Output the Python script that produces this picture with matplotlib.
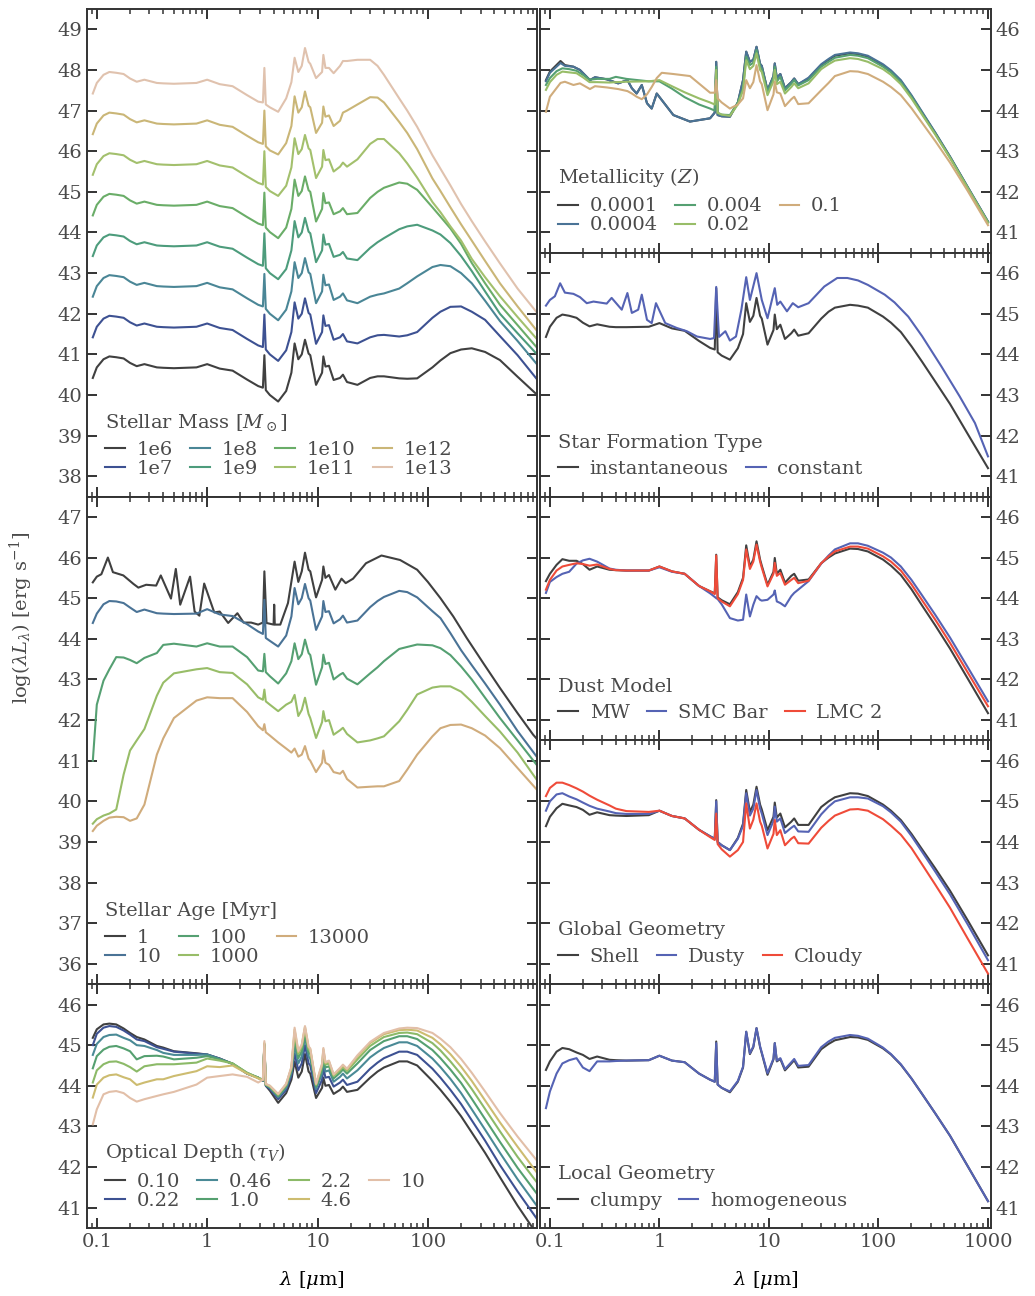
import numpy as np
import matplotlib
matplotlib.use("Agg")
import matplotlib.pyplot as plt
from matplotlib.ticker import FuncFormatter

# ── Wavelength grids [micron] ─────────────────────────────────────────────────

WL = [0.092, 0.1, 0.115, 0.13, 0.15, 0.175, 0.2, 0.23, 0.27, 0.35, 0.4, 0.5,
      0.8, 1.0, 1.3, 1.7, 2.3, 2.9, 3.2, 3.3, 3.4, 3.7, 4.4, 5.2, 5.8, 6.2,
      6.7, 7.2, 7.7, 8.3, 8.6, 9.7, 11.0, 11.3, 11.8, 12.7, 14.0, 16.0, 17.0,
      18.5, 23.0, 30.0, 35.0, 40.0, 55.0, 65.0, 80.0, 110.0, 130.0, 160.0,
      200.0, 250.0, 330.0, 450.0, 650.0, 1000.0]

WL_AGE1 = [0.092, 0.1, 0.11, 0.126, 0.14, 0.174, 0.215, 0.238, 0.28, 0.345,
           0.38, 0.47, 0.52, 0.57, 0.70, 0.77, 0.85, 0.94, 1.16, 1.3, 1.55,
           1.88, 2.14, 2.5, 2.9, 3.2, 3.3, 3.45, 4.0, 4.05, 4.1, 4.6, 5.4,
           6.2, 6.7, 7.2, 7.7, 8.3, 8.6, 9.7, 11.0, 11.3, 11.8, 12.7, 14.5,
           16.5, 18.0, 21.0, 27.5, 38.0, 56.0, 80.0, 100.0, 130.0, 170.0,
           225.0, 320.0, 450.0, 650.0, 900.0, 1000.0]

WL_LOWZ = [0.092, 0.1, 0.125, 0.137, 0.164, 0.188, 0.232, 0.258, 0.33, 0.42,
           0.51, 0.56, 0.62, 0.69, 0.77, 0.85, 0.945, 1.05, 1.34, 1.9, 2.9,
           3.2, 3.3, 3.4, 3.7, 4.4, 5.2, 5.8, 6.2, 6.7, 7.2, 7.7, 8.3, 8.6,
           9.7, 11.0, 11.3, 11.8, 12.7, 14.0, 16.0, 17.0, 18.5, 23.0, 30.0,
           35.0, 40.0, 55.0, 65.0, 80.0, 110.0, 130.0, 160.0, 200.0, 250.0,
           330.0, 450.0, 650.0, 1000.0]

WL_CONST = [0.092, 0.1, 0.111, 0.124, 0.137, 0.164, 0.188, 0.217, 0.25, 0.33,
            0.366, 0.453, 0.51, 0.56, 0.64, 0.69, 0.77, 0.85, 0.93, 1.13,
            1.44, 1.78, 2.2, 2.9, 3.15, 3.3, 3.5, 4.0, 4.4, 5.0, 5.6, 6.2,
            6.7, 7.7, 8.6, 9.7, 11.3, 11.9, 12.7, 14.6, 16.5, 18.5, 23.0,
            32.0, 42.0, 52.0, 65.0, 80.0, 114.0, 140.0, 187.0, 250.0, 376.0,
            550.0, 760.0, 1000.0]

# ── Stellar mass (log lambda L_lambda, on WL) ─────────────────────────────────

MASS_LABELS = ["1e6", "1e7", "1e8", "1e9", "1e10", "1e11", "1e12", "1e13"]
MASS_1E6 = [40.42, 40.68, 40.88, 40.95, 40.93, 40.90, 40.79, 40.71, 40.76, 40.68, 40.67, 40.66,
            40.68, 40.76, 40.65, 40.60, 40.38, 40.22,
            40.18, 40.98, 40.12, 40.00, 39.84, 40.10, 40.55, 41.27, 40.88, 41.00, 41.36,
            41.02, 40.98, 40.25, 40.55, 40.95, 40.70, 40.72, 40.37, 40.42, 40.50, 40.32,
            40.25, 40.42, 40.46, 40.46, 40.41, 40.40, 40.41, 40.68, 40.85, 41.03, 41.12,
            41.15, 41.06, 40.86, 40.45, 39.98]
MASS_1E7 = [41.42, 41.68, 41.88, 41.95, 41.93, 41.90, 41.79, 41.71, 41.76, 41.68, 41.67, 41.66,
            41.68, 41.76, 41.65, 41.60, 41.38, 41.22,
            41.18, 41.98, 41.12, 41.00, 40.84, 41.10, 41.55, 42.28, 41.88, 42.00, 42.38,
            42.02, 41.98, 41.26, 41.55, 41.96, 41.70, 41.72, 41.36, 41.42, 41.50, 41.32,
            41.27, 41.42, 41.47, 41.48, 41.44, 41.47, 41.55, 41.90, 42.05, 42.17, 42.18,
            42.05, 41.85, 41.45, 40.98, 40.35]
MASS_1E8 = [42.42, 42.68, 42.88, 42.95, 42.93, 42.90, 42.79, 42.71, 42.76, 42.68, 42.67, 42.66,
            42.68, 42.76, 42.65, 42.60, 42.38, 42.22,
            42.18, 42.98, 42.12, 42.00, 41.84, 42.10, 42.55, 43.27, 42.88, 43.00, 43.37,
            43.02, 42.98, 42.26, 42.55, 42.96, 42.70, 42.72, 42.34, 42.42, 42.50, 42.33,
            42.26, 42.42, 42.47, 42.50, 42.62, 42.75, 42.92, 43.15, 43.20, 43.17, 43.00,
            42.75, 42.32, 41.82, 41.33, 40.72]
MASS_1E9 = [43.42, 43.68, 43.88, 43.95, 43.93, 43.90, 43.79, 43.71, 43.76, 43.68, 43.67, 43.66,
            43.68, 43.76, 43.65, 43.60, 43.38, 43.22,
            43.18, 43.98, 43.12, 43.00, 42.85, 43.10, 43.56, 44.28, 43.88, 44.00, 44.36,
            44.02, 43.98, 43.27, 43.56, 43.95, 43.70, 43.72, 43.40, 43.45, 43.52, 43.36,
            43.32, 43.62, 43.76, 43.86, 44.08, 44.15, 44.19, 44.05, 43.95, 43.74, 43.42,
            43.05, 42.55, 42.00, 41.52, 40.97]
MASS_1E10 = [44.42, 44.68, 44.88, 44.95, 44.93, 44.90, 44.79, 44.71, 44.76, 44.68, 44.67, 44.66,
             44.68, 44.76, 44.65, 44.60, 44.38, 44.22,
             44.18, 44.98, 44.12, 44.01, 43.86, 44.12, 44.58, 45.30, 44.90, 45.02, 45.38,
             45.04, 45.00, 44.27, 44.58, 44.97, 44.72, 44.74, 44.45, 44.52, 44.60, 44.45,
             44.48, 44.85, 45.00, 45.10, 45.23, 45.20, 45.05, 44.62, 44.39, 44.10, 43.72,
             43.25, 42.75, 42.22, 41.72, 41.13]
MASS_1E11 = [45.42, 45.68, 45.88, 45.95, 45.93, 45.90, 45.79, 45.71, 45.76, 45.68, 45.67, 45.66,
             45.68, 45.76, 45.65, 45.60, 45.38, 45.22,
             45.18, 46.00, 45.12, 45.02, 44.90, 45.15, 45.60, 46.32, 45.93, 46.05, 46.40,
             46.07, 46.03, 45.34, 45.62, 46.03, 45.78, 45.80, 45.50, 45.62, 45.72, 45.62,
             45.80, 46.18, 46.30, 46.30, 45.95, 45.70, 45.35, 44.75, 44.50, 44.15, 43.80,
             43.35, 42.90, 42.43, 41.92, 41.34]
MASS_1E12 = [46.42, 46.68, 46.88, 46.95, 46.93, 46.90, 46.79, 46.71, 46.76, 46.68, 46.67, 46.66,
             46.68, 46.76, 46.65, 46.60, 46.38, 46.22,
             46.18, 47.00, 46.12, 46.02, 45.92, 46.20, 46.62, 47.35, 46.95, 47.08, 47.47,
             47.12, 47.08, 46.45, 46.70, 47.10, 46.85, 46.88, 46.62, 46.75, 46.95, 47.00,
             47.15, 47.33, 47.32, 47.20, 46.72, 46.45, 46.05, 45.33, 45.02, 44.62, 44.20,
             43.80, 43.30, 42.75, 42.18, 41.54]
MASS_1E13 = [47.42, 47.68, 47.88, 47.95, 47.93, 47.90, 47.79, 47.71, 47.76, 47.68, 47.67, 47.66,
             47.68, 47.76, 47.65, 47.60, 47.38, 47.22,
             47.20, 48.05, 47.15, 47.08, 46.97, 47.30, 47.70, 48.30, 47.95, 48.10, 48.54,
             48.20, 48.15, 47.80, 47.95, 48.37, 48.05, 48.05, 47.92, 48.10, 48.22, 48.22,
             48.25, 48.25, 48.10, 47.88, 47.30, 47.00, 46.60, 45.90, 45.57, 45.16, 44.70,
             44.28, 43.78, 43.24, 42.62, 41.99]

# ── Stellar age ───────────────────────────────────────────────────────────────

AGE_LABELS = ["1", "10", "100", "1000", "13000"]
AGE_1 = [45.39, 45.53, 45.59, 46.00, 45.64, 45.56, 45.35, 45.26, 45.33, 45.31,
         45.56, 44.99, 45.72, 44.84, 45.53, 44.67, 44.57, 45.36, 44.65, 44.67,
         44.39, 44.63, 44.40, 44.40, 44.35, 44.40, 45.66, 44.39, 44.35, 44.84,
         44.35, 44.35, 44.88, 45.90, 45.40, 45.66, 46.12, 45.70, 45.66, 45.02,
         45.45, 45.78, 45.50, 45.57, 45.21, 45.48, 45.37, 45.48, 45.86, 46.05,
         45.94, 45.70, 45.40, 45.00, 44.55, 44.02, 43.39, 42.79, 42.17, 41.64,
         41.50]
AGE_10 = [44.39, 44.62, 44.85, 44.93, 44.92, 44.88, 44.77, 44.66, 44.72, 44.63, 44.62, 44.61,
          44.62, 44.73, 44.60, 44.56, 44.36, 44.18,
          44.12, 44.96, 44.02, 43.95, 43.81, 44.08, 44.55, 45.25, 44.85, 45.00, 45.35,
          45.00, 44.94, 44.22, 44.55, 44.93, 44.66, 44.68, 44.38, 44.48, 44.57, 44.40,
          44.45, 44.78, 44.93, 45.03, 45.18, 45.15, 45.02, 44.68, 44.51, 44.14, 43.72,
          43.35, 42.90, 42.38, 41.73, 41.05]
AGE_100 = [41.00, 42.38, 42.97, 43.25, 43.55, 43.54, 43.48, 43.40, 43.53, 43.65, 43.85, 43.88,
           43.81, 43.89, 43.81, 43.81, 43.55, 43.22,
           43.20, 43.63, 43.18, 43.08, 42.90, 43.15, 43.45, 43.89, 43.50, 43.62, 43.98,
           43.65, 43.60, 42.87, 43.30, 43.61, 43.38, 43.41, 43.00, 43.12, 43.16, 43.02,
           42.88, 43.15, 43.30, 43.45, 43.75, 43.80, 43.86, 43.84, 43.77, 43.60, 43.32,
           43.00, 42.55, 42.05, 41.50, 40.85]
AGE_1000 = [39.45, 39.56, 39.65, 39.70, 39.80, 40.66, 41.25, 41.50, 41.78, 42.60, 42.92, 43.15,
            43.25, 43.28, 43.18, 43.16, 42.88, 42.56,
            42.50, 42.75, 42.46, 42.38, 42.22, 42.38, 42.45, 42.62, 42.10, 42.25, 42.55,
            42.15, 42.05, 41.56, 41.95, 42.22, 41.97, 42.00, 41.64, 41.75, 41.81, 41.66,
            41.45, 41.50, 41.55, 41.60, 41.97, 42.25, 42.63, 42.80, 42.83, 42.83, 42.70,
            42.45, 42.10, 41.72, 41.20, 40.48]
AGE_13000 = [39.27, 39.40, 39.52, 39.60, 39.62, 39.61, 39.52, 39.58, 39.92, 41.15, 41.55, 42.05,
             42.48, 42.56, 42.54, 42.54, 42.20, 41.85,
             41.75, 41.90, 41.70, 41.62, 41.45, 41.30, 41.20, 41.30, 41.10, 41.15, 41.36,
             41.05, 41.00, 40.72, 40.95, 41.25, 40.95, 40.90, 40.72, 40.68, 40.75, 40.55,
             40.34, 40.36, 40.37, 40.37, 40.50, 40.78, 41.15, 41.60, 41.80, 41.88, 41.89,
             41.80, 41.62, 41.31, 40.82, 40.25]

# ── Optical depth ─────────────────────────────────────────────────────────────

TAU_LABELS = ["0.10", "0.22", "0.46", "1.0", "2.2", "4.6", "10"]
TAU_010 = [45.18, 45.39, 45.51, 45.53, 45.51, 45.41, 45.30, 45.20, 45.14, 44.98, 44.94, 44.85,
           44.80, 44.77, 44.67, 44.54, 44.30, 44.20,
           44.12, 45.00, 44.00, 43.88, 43.58, 43.82, 44.15, 44.60, 44.20, 44.35, 44.78,
           44.35, 44.30, 43.70, 43.95, 44.20, 44.00, 44.02, 43.80, 43.90, 43.98, 43.85,
           43.90, 44.20, 44.35, 44.45, 44.60, 44.60, 44.50, 44.12, 43.90, 43.60, 43.25,
           42.85, 42.35, 41.75, 41.05, 40.30]
TAU_022 = [45.00, 45.28, 45.43, 45.47, 45.45, 45.36, 45.26, 45.14, 45.10, 44.95, 44.91, 44.84,
           44.79, 44.77, 44.67, 44.54, 44.30, 44.20,
           44.12, 45.00, 44.00, 43.92, 43.67, 43.90, 44.25, 44.80, 44.38, 44.55, 45.00,
           44.55, 44.50, 43.82, 44.15, 44.45, 44.20, 44.22, 43.98, 44.08, 44.15, 44.02,
           44.10, 44.42, 44.57, 44.68, 44.84, 44.84, 44.76, 44.42, 44.20, 43.90, 43.55,
           43.15, 42.65, 42.05, 41.40, 40.68]
TAU_046 = [44.76, 45.03, 45.20, 45.25, 45.26, 45.18, 45.12, 45.00, 44.98, 44.88, 44.81, 44.76,
           44.76, 44.77, 44.66, 44.54, 44.30, 44.20,
           44.13, 45.00, 44.02, 43.95, 43.72, 43.95, 44.32, 45.00, 44.55, 44.72, 45.20,
           44.72, 44.66, 43.92, 44.30, 44.62, 44.35, 44.38, 44.10, 44.22, 44.30, 44.18,
           44.38, 44.70, 44.83, 44.93, 45.07, 45.07, 44.98, 44.67, 44.46, 44.17, 43.82,
           43.42, 42.92, 42.35, 41.70, 41.00]
TAU_1 = [44.43, 44.73, 44.89, 44.96, 44.98, 44.92, 44.85, 44.65, 44.73, 44.74, 44.72, 44.65,
         44.69, 44.73, 44.65, 44.55, 44.32, 44.20,
         44.13, 45.02, 44.02, 43.97, 43.75, 44.00, 44.38, 45.15, 44.68, 44.85, 45.30,
         44.83, 44.78, 43.98, 44.40, 44.75, 44.45, 44.48, 44.18, 44.32, 44.40, 44.30,
         44.55, 44.88, 45.00, 45.10, 45.22, 45.22, 45.15, 44.88, 44.68, 44.40, 44.07,
         43.68, 43.18, 42.62, 41.98, 41.30]
TAU_22 = [44.08, 44.38, 44.53, 44.59, 44.60, 44.54, 44.46, 44.35, 44.48, 44.53, 44.53, 44.53,
          44.57, 44.67, 44.62, 44.55, 44.32, 44.20,
          44.14, 45.04, 44.03, 43.98, 43.78, 44.02, 44.42, 45.30, 44.78, 44.95, 45.40,
          44.90, 44.86, 44.02, 44.48, 44.85, 44.52, 44.55, 44.24, 44.38, 44.46, 44.36,
          44.65, 44.98, 45.10, 45.20, 45.30, 45.31, 45.27, 45.05, 44.87, 44.60, 44.28,
          43.92, 43.43, 42.88, 42.25, 41.58]
TAU_46 = [43.71, 44.03, 44.20, 44.26, 44.28, 44.21, 44.16, 44.02, 44.08, 44.16, 44.16, 44.24,
          44.36, 44.48, 44.46, 44.50, 44.30, 44.18,
          44.14, 45.05, 44.04, 44.00, 43.79, 44.04, 44.45, 45.38, 44.83, 45.00, 45.45,
          44.95, 44.90, 44.04, 44.52, 44.90, 44.56, 44.60, 44.27, 44.42, 44.50, 44.40,
          44.72, 45.05, 45.17, 45.27, 45.37, 45.38, 45.36, 45.18, 45.02, 44.78, 44.47,
          44.12, 43.64, 43.10, 42.50, 41.82]
TAU_10 = [43.05, 43.42, 43.79, 43.85, 43.87, 43.82, 43.70, 43.61, 43.67, 43.75, 43.79, 43.85,
          44.03, 44.20, 44.24, 44.28, 44.22, 44.08,
          44.15, 45.10, 44.05, 44.00, 43.80, 44.05, 44.47, 45.43, 44.86, 45.02, 45.47,
          44.97, 44.92, 44.05, 44.55, 44.93, 44.58, 44.62, 44.28, 44.44, 44.52, 44.42,
          44.75, 45.08, 45.20, 45.30, 45.41, 45.43, 45.42, 45.30, 45.16, 44.95, 44.66,
          44.32, 43.86, 43.33, 42.75, 42.12]

# ── Metallicity ───────────────────────────────────────────────────────────────

Z_LABELS = ["0.0001", "0.0004", "0.004", "0.02", "0.1"]
Z_0001 = [44.75, 44.96, 45.22, 45.12, 45.08, 45.00, 44.75, 44.82, 44.77, 44.67,
          44.75, 44.55, 44.42, 44.63, 44.18, 44.05, 44.42, 44.26, 43.89, 43.73,
          43.81, 43.95, 45.20, 43.89, 43.86, 43.85, 44.20, 44.75, 45.45, 45.20,
          45.25, 45.57, 45.15, 45.10, 44.50, 44.85, 45.16, 44.80, 44.90, 44.55,
          44.70, 44.79, 44.65,
          44.79, 45.12, 45.25, 45.35, 45.41, 45.39, 45.33, 45.12, 44.97, 44.73,
          44.36, 43.95, 43.45, 42.86, 42.12, 41.26]
Z_0004 = [44.72, 44.93, 45.17, 45.10, 45.08, 45.00, 44.75, 44.82, 44.77, 44.67,
          44.75, 44.55, 44.42, 44.63, 44.18, 44.05, 44.42, 44.26, 43.89, 43.73,
          43.81, 43.95, 45.20, 43.89, 43.86, 43.85, 44.20, 44.75, 45.45, 45.20,
          45.25, 45.57, 45.15, 45.10, 44.50, 44.85, 45.16, 44.80, 44.90, 44.55,
          44.70, 44.79, 44.65,
          44.81, 45.14, 45.27, 45.37, 45.43, 45.41, 45.35, 45.14, 44.99, 44.75,
          44.38, 43.97, 43.46, 42.87, 42.13, 41.27]
Z_004 = [44.63, 44.80, 44.97, 45.04, 45.02, 44.98, 44.88, 44.76, 44.78, 44.78, 44.83, 44.78,
         44.72, 44.72, 44.54, 44.33, 44.15, 44.05,
         44.00, 45.08, 43.94, 43.90, 43.89, 44.20, 44.55, 45.33, 45.12, 45.18, 45.49,
         45.08, 45.02, 44.46, 44.80, 45.08, 44.72, 44.83, 44.50, 44.66, 44.75, 44.62,
         44.75, 45.08, 45.20, 45.30, 45.37, 45.35, 45.29, 45.08, 44.94, 44.70, 44.34,
         43.93, 43.43, 42.85, 42.11, 41.25]
Z_02 = [44.51, 44.70, 44.88, 44.96, 44.94, 44.92, 44.82, 44.70, 44.70, 44.69, 44.70, 44.71,
        44.72, 44.75, 44.60, 44.45, 44.30, 44.20,
        44.15, 45.00, 43.95, 43.90, 43.87, 44.15, 44.50, 45.24, 45.02, 45.10, 45.41,
        45.00, 44.95, 44.38, 44.72, 45.00, 44.65, 44.71, 44.42, 44.58, 44.67, 44.55,
        44.67, 45.02, 45.14, 45.23, 45.29, 45.27, 45.20, 45.02, 44.88, 44.65, 44.30,
        43.90, 43.41, 42.83, 42.10, 41.24]
Z_1 = [43.97, 44.34, 44.68, 44.71, 44.63, 44.67, 44.53, 44.60, 44.57, 44.53,
       44.48, 44.42, 44.34, 44.28, 44.40, 44.58, 44.80, 44.93, 44.90, 44.85,
       44.44, 44.44, 44.75, 44.30, 44.20, 44.05, 44.15, 44.30, 44.75, 44.55,
       44.70, 45.12, 44.72, 44.65, 44.01, 44.40, 44.71, 44.45, 44.42, 44.11,
       44.28, 44.34, 44.16,
       44.18, 44.50, 44.68, 44.85, 44.97, 44.96, 44.90, 44.71, 44.58, 44.38,
       44.06, 43.70, 43.25, 42.72, 42.03, 41.18]

# ── Star formation type ───────────────────────────────────────────────────────

SF_LABELS = ["instantaneous", "constant"]
SF_INST = [44.43, 44.68, 44.90, 44.98, 44.95, 44.90, 44.78, 44.69, 44.74, 44.68, 44.67, 44.67,
           44.68, 44.77, 44.64, 44.58, 44.33, 44.16,
           44.12, 45.63, 44.05, 43.97, 43.87, 44.15, 44.50, 45.26, 44.80, 44.95, 45.39,
           44.95, 44.88, 44.24, 44.60, 44.98, 44.62, 44.73, 44.38, 44.52, 44.61, 44.46,
           44.52, 44.88, 45.05, 45.15, 45.22, 45.20, 45.15, 44.93, 44.78, 44.55, 44.20,
           43.82, 43.33, 42.78, 42.05, 41.20]
SF_CONST = [45.20, 45.34, 45.43, 45.75, 45.52, 45.49, 45.41, 45.26, 45.30, 45.25,
            45.39, 45.10, 45.51, 45.02, 45.10, 45.47, 44.85, 44.77, 45.26, 44.77,
            44.65, 44.57, 44.44, 44.38, 44.40, 45.66, 44.43, 44.57, 44.34, 44.44,
            45.10, 45.90, 45.34, 46.00, 45.34, 44.89, 45.63, 45.22, 45.30, 45.06,
            45.26, 45.16, 45.26, 45.67, 45.88, 45.88, 45.82, 45.71, 45.47, 45.28,
            44.93, 44.45, 43.70, 42.97, 42.31, 41.49]

# ── Dust model ────────────────────────────────────────────────────────────────

DUST_LABELS = ["MW", "SMC Bar", "LMC 2"]
DUST_MW = [44.42, 44.60, 44.82, 44.96, 44.92, 44.92, 44.84, 44.70, 44.78, 44.70, 44.69, 44.68,
           44.68, 44.78, 44.66, 44.60, 44.30, 44.17,
           44.12, 45.07, 44.02, 43.95, 43.85, 44.15, 44.50, 45.30, 44.78, 44.95, 45.40,
           44.95, 44.80, 44.33, 44.65, 44.99, 44.60, 44.70, 44.38, 44.55, 44.60, 44.43,
           44.46, 44.86, 45.00, 45.10, 45.22, 45.21, 45.15, 44.95, 44.80, 44.57, 44.22,
           43.82, 43.33, 42.76, 42.03, 41.17]
DUST_SMC = [44.13, 44.40, 44.52, 44.60, 44.65, 44.85, 44.93, 44.97, 44.90, 44.73, 44.70, 44.68,
            44.68, 44.76, 44.65, 44.60, 44.30, 44.12,
            44.03, 44.00, 43.98, 43.85, 43.51, 43.45, 43.47, 44.09, 43.55, 43.84, 44.05,
            43.96, 43.94, 43.96, 44.09, 44.19, 43.92, 43.88, 43.80, 44.05, 44.13, 44.21,
            44.42, 44.85, 45.05, 45.20, 45.35, 45.35, 45.29, 45.12, 45.00, 44.78, 44.45,
            44.07, 43.59, 43.03, 42.31, 41.46]
DUST_LMC = [44.21, 44.45, 44.68, 44.78, 44.82, 44.86, 44.84, 44.80, 44.83, 44.72, 44.69, 44.68,
            44.68, 44.78, 44.66, 44.60, 44.30, 44.17,
            44.10, 45.05, 44.00, 43.92, 43.80, 44.10, 44.45, 45.20, 44.72, 44.90, 45.32,
            44.90, 44.75, 44.29, 44.60, 44.87, 44.55, 44.62, 44.33, 44.45, 44.50, 44.37,
            44.43, 44.86, 45.03, 45.15, 45.27, 45.27, 45.22, 45.03, 44.90, 44.68, 44.34,
            43.95, 43.47, 42.90, 42.18, 41.34]

# ── Global geometry ───────────────────────────────────────────────────────────

GEO_LABELS = ["Shell", "Dusty", "Cloudy"]
GEO_SHELL = [44.39, 44.62, 44.83, 44.94, 44.90, 44.86, 44.79, 44.67, 44.73, 44.66, 44.65, 44.64,
             44.66, 44.77, 44.64, 44.58, 44.30, 44.14,
             44.08, 45.03, 44.00, 43.92, 43.80, 44.10, 44.45, 45.28, 44.74, 44.92, 45.36,
             44.92, 44.80, 44.29, 44.62, 44.97, 44.60, 44.70, 44.36, 44.50, 44.58, 44.42,
             44.42, 44.86, 45.00, 45.10, 45.20, 45.19, 45.13, 44.92, 44.77, 44.54, 44.20,
             43.82, 43.35, 42.80, 42.08, 41.21]
GEO_DUSTY = [44.77, 45.00, 45.17, 45.20, 45.12, 45.05, 44.97, 44.89, 44.82, 44.75, 44.71, 44.69,
             44.69, 44.77, 44.64, 44.58, 44.30, 44.14,
             44.08, 45.00, 44.00, 43.92, 43.80, 44.08, 44.40, 45.20, 44.65, 44.82, 45.28,
             44.82, 44.70, 44.17, 44.52, 44.87, 44.50, 44.58, 44.22, 44.35, 44.40, 44.26,
             44.25, 44.68, 44.87, 45.00, 45.10, 45.10, 45.07, 44.88, 44.73, 44.50, 44.15,
             43.76, 43.27, 42.71, 41.98, 41.09]
GEO_CLOUDY = [45.13, 45.33, 45.46, 45.46, 45.40, 45.32, 45.24, 45.14, 45.04, 44.90, 44.82, 44.76,
              44.74, 44.77, 44.64, 44.58, 44.30, 44.12,
              44.05, 44.70, 43.95, 43.82, 43.64, 43.80, 44.00, 44.95, 44.33, 44.55, 44.95,
              44.50, 44.40, 43.84, 44.20, 44.54, 44.17, 44.29, 43.92, 44.08, 44.13, 43.97,
              43.96, 44.35, 44.52, 44.65, 44.80, 44.81, 44.77, 44.56, 44.40, 44.18, 43.85,
              43.45, 42.95, 42.38, 41.63, 40.76]

# ── Local geometry ────────────────────────────────────────────────────────────

LOC_LABELS = ["clumpy", "homogeneous"]
LOC_CLUMPY = [44.39, 44.60, 44.84, 44.93, 44.90, 44.82, 44.76, 44.66, 44.72, 44.64, 44.63, 44.62,
              44.63, 44.74, 44.62, 44.58, 44.30, 44.15,
              44.10, 45.09, 44.03, 43.95, 43.84, 44.10, 44.45, 45.33, 44.78, 44.95, 45.42,
              44.95, 44.80, 44.27, 44.65, 45.05, 44.60, 44.66, 44.38, 44.55, 44.63, 44.45,
              44.47, 44.90, 45.03, 45.12, 45.20, 45.19, 45.13, 44.92, 44.77, 44.52, 44.18,
              43.80, 43.32, 42.77, 42.03, 41.16]
LOC_HOMOG = [43.45, 43.86, 44.30, 44.55, 44.63, 44.68, 44.45, 44.36, 44.60, 44.60, 44.61, 44.62,
             44.63, 44.74, 44.62, 44.58, 44.30, 44.15,
             44.10, 45.05, 44.03, 43.95, 43.86, 44.12, 44.47, 45.33, 44.80, 44.97, 45.42,
             44.97, 44.82, 44.31, 44.67, 45.05, 44.62, 44.68, 44.41, 44.58, 44.66, 44.49,
             44.51, 44.95, 45.09, 45.18, 45.25, 45.23, 45.16, 44.94, 44.78, 44.53, 44.18,
             43.80, 43.32, 42.77, 42.03, 41.16]

# ── Colours ───────────────────────────────────────────────────────────────────

SEQ8 = ["#404040", "#3d5192", "#4a8696", "#4d9c7c", "#6aad68", "#a3c06d", "#cab677", "#e0c2ae"]
SEQ7 = ["#404040", "#3d5192", "#4a8a96", "#55a070", "#8cba68", "#cdbc70", "#e2bfa8"]
SEQ5 = ["#404040", "#4a7396", "#55a072", "#98bd68", "#d0ac7c"]
DARK, BLUE, RED = "#404040", "#5563b4", "#ef4b39"

# ── Style ─────────────────────────────────────────────────────────────────────

plt.rcParams.update({
    "font.family": "DejaVu Serif",
    "mathtext.fontset": "dejavuserif",
    "font.size": 14,
    "text.color": "#4a4a4a",
    "axes.edgecolor": "#333333",
    "axes.linewidth": 1.4,
    "xtick.color": "#333333",
    "ytick.color": "#333333",
    "xtick.labelcolor": "#4a4a4a",
    "ytick.labelcolor": "#4a4a4a",
    "xtick.direction": "in",
    "ytick.direction": "in",
    "xtick.major.size": 7,
    "ytick.major.size": 7,
    "xtick.minor.size": 3.5,
    "xtick.major.width": 1.4,
    "ytick.major.width": 1.4,
    "xtick.minor.width": 1.1,
    "xtick.labelsize": 14,
    "ytick.labelsize": 14,
    "legend.fontsize": 14,
    "legend.title_fontsize": 14,
})

W, H = 1035, 1296
fig = plt.figure(figsize=(W / 100, H / 100), dpi=100)

ROWS = [9, 252.8, 496.6, 740.4, 984.2, 1228]
LEFT_X, RIGHT_X = (87, 537), (540, 991)


def add_ax(xs, y0, y1):
    return fig.add_axes([xs[0] / W, 1 - y1 / H, (xs[1] - xs[0]) / W, (y1 - y0) / H])


def draw(ax, series, title, ncol, ylim, yticks, right, bottom):
    for wl, vals, lab, col in series:
        ax.plot(wl, vals, color=col, lw=1.5, label=lab)
    ax.set_xscale("log")
    ax.set_xticks([0.1, 1, 10, 100, 1000])
    ax.xaxis.set_major_formatter(FuncFormatter(lambda v, p: "%g" % v))
    if right:
        ax.set_xlim(0.0812, 1065)
    else:
        ax.set_xlim(0.0815, 975)
    ax.set_ylim(*ylim)
    ax.set_yticks(yticks)
    ax.tick_params(which="both", top=True, bottom=True, left=True, right=True)
    ax.tick_params(axis="y", labelleft=not right, labelright=right)
    ax.tick_params(axis="x", labelbottom=bottom)
    leg = ax.legend(title=title, ncol=ncol, loc="lower left", frameon=False,
                    handlelength=1.0, handletextpad=0.6, columnspacing=0.9,
                    labelspacing=0.05, alignment="left", borderaxespad=0.55,
                    borderpad=0.4)
    leg._legend_box.sep = 6   # extra gap between title and entries
    if bottom:
        ax.set_xlabel(r"$\lambda$ [$\mu$m]", labelpad=13)


# left column
ax = add_ax(LEFT_X, ROWS[0], ROWS[2])
draw(ax, zip([WL] * 8,
             [MASS_1E6, MASS_1E7, MASS_1E8, MASS_1E9, MASS_1E10, MASS_1E11, MASS_1E12, MASS_1E13],
             MASS_LABELS, SEQ8),
     r"Stellar Mass [$M_\odot$]", 4, (37.5, 49.5), range(38, 50), False, False)

ax = add_ax(LEFT_X, ROWS[2], ROWS[4])
draw(ax, zip([WL_AGE1, WL, WL, WL, WL],
             [AGE_1, AGE_10, AGE_100, AGE_1000, AGE_13000], AGE_LABELS, SEQ5),
     "Stellar Age [Myr]", 3, (35.5, 47.5), range(36, 48), False, False)

ax = add_ax(LEFT_X, ROWS[4], ROWS[5])
draw(ax, zip([WL] * 7, [TAU_010, TAU_022, TAU_046, TAU_1, TAU_22, TAU_46, TAU_10],
             TAU_LABELS, SEQ7),
     r"Optical Depth ($\tau_V$)", 4, (40.5, 46.5), range(41, 47), False, True)

# right column
ax = add_ax(RIGHT_X, ROWS[0], ROWS[1])
draw(ax, zip([WL_LOWZ, WL_LOWZ, WL, WL, WL_LOWZ], [Z_0001, Z_0004, Z_004, Z_02, Z_1],
             Z_LABELS, SEQ5),
     r"Metallicity ($Z$)", 3, (40.5, 46.5), range(41, 47), True, False)

ax = add_ax(RIGHT_X, ROWS[1], ROWS[2])
draw(ax, zip([WL, WL_CONST], [SF_INST, SF_CONST], SF_LABELS, [DARK, BLUE]),
     "Star Formation Type", 2, (40.5, 46.5), range(41, 47), True, False)

ax = add_ax(RIGHT_X, ROWS[2], ROWS[3])
draw(ax, zip([WL] * 3, [DUST_MW, DUST_SMC, DUST_LMC], DUST_LABELS, [DARK, BLUE, RED]),
     "Dust Model", 3, (40.5, 46.5), range(41, 47), True, False)

ax = add_ax(RIGHT_X, ROWS[3], ROWS[4])
draw(ax, zip([WL] * 3, [GEO_SHELL, GEO_DUSTY, GEO_CLOUDY], GEO_LABELS, [DARK, BLUE, RED]),
     "Global Geometry", 3, (40.5, 46.5), range(41, 47), True, False)

ax = add_ax(RIGHT_X, ROWS[4], ROWS[5])
draw(ax, zip([WL] * 2, [LOC_CLUMPY, LOC_HOMOG], LOC_LABELS, [DARK, BLUE]),
     "Local Geometry", 2, (40.5, 46.5), range(41, 47), True, True)

fig.text(0.021, 0.523, r"$\log(\lambda L_{\lambda})$ [erg s$^{-1}$]",
         rotation=90, ha="center", va="center", fontsize=14)

fig.savefig("out.png", dpi=100)
